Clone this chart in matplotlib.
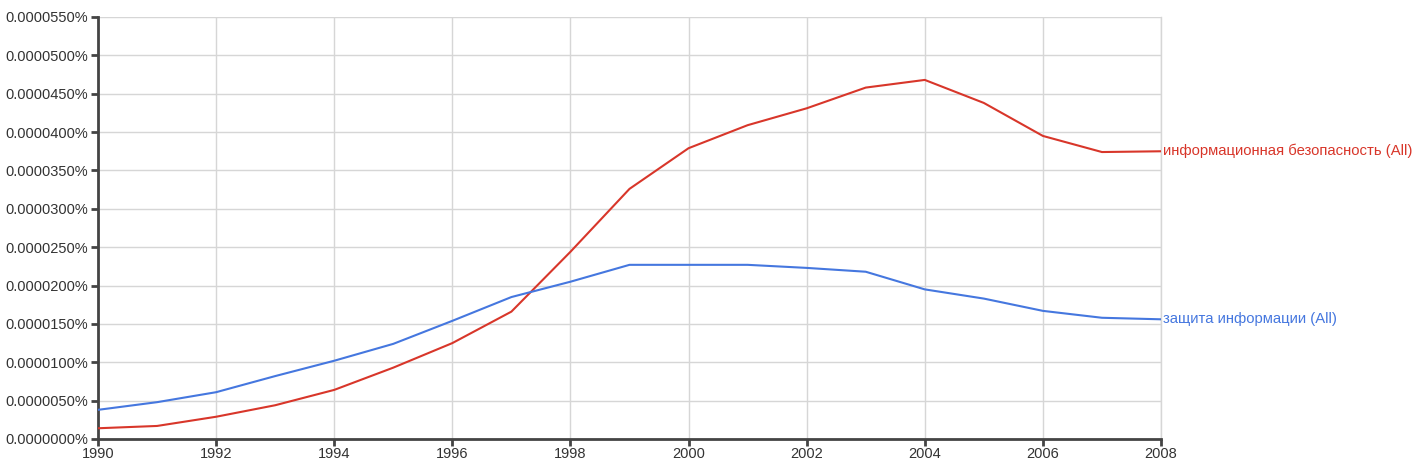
import matplotlib
matplotlib.use("Agg")
import matplotlib.pyplot as plt
from matplotlib.ticker import FuncFormatter, MultipleLocator

# dati (valori in percentuale)
anni = list(range(1990, 2009))
sicurezza = [0.0000014, 0.0000017, 0.0000029, 0.0000044, 0.0000064, 0.0000093,
             0.0000125, 0.0000166, 0.0000244, 0.0000326, 0.0000379, 0.0000409,
             0.0000431, 0.0000458, 0.0000468, 0.0000438, 0.0000395, 0.0000374,
             0.0000375]
protezione = [0.0000038, 0.0000048, 0.0000061, 0.0000082, 0.0000102, 0.0000124,
              0.0000154, 0.0000185, 0.0000205, 0.0000227, 0.0000227, 0.0000227,
              0.0000223, 0.0000218, 0.0000195, 0.0000183, 0.0000167, 0.0000158,
              0.0000156]
nomi = ["информационная безопасность (All)", "защита информации (All)"]
colori = ["#d8362a", "#4577df"]

plt.rcParams["font.family"] = ["Liberation Sans", "DejaVu Sans"]

fig = plt.figure(figsize=(14.19, 4.71), dpi=100)
ax = fig.add_axes([98 / 1419, 32 / 471, (1161 - 98) / 1419, (439 - 17) / 471])

for serie, nome, colore in zip([sicurezza, protezione], nomi, colori):
    ax.plot(anni, serie, color=colore, linewidth=1.5, zorder=3)
    # etichetta a destra, all'altezza dell'ultimo valore
    ax.annotate(nome, xy=(anni[-1], serie[-1]), xytext=(1.5, 0),
                textcoords="offset points", va="center", ha="left",
                color=colore, fontsize=10.7, annotation_clip=False)

ax.set_xlim(1990, 2008)
ax.set_ylim(0, 0.000055)
ax.xaxis.set_major_locator(MultipleLocator(2))
ax.yaxis.set_major_locator(MultipleLocator(0.000005))
ax.yaxis.set_major_formatter(FuncFormatter(lambda v, p: f"{v:.7f}%"))

ax.grid(True, color="#d6d6d6", linewidth=1)
ax.set_axisbelow(True)
ax.spines["top"].set_visible(False)
ax.spines["right"].set_color("#d6d6d6")
ax.spines["right"].set_linewidth(1)
for lato in ["left", "bottom"]:
    ax.spines[lato].set_color("#444444")
    ax.spines[lato].set_linewidth(2)
ax.tick_params(axis="both", direction="out", length=5, width=2, color="#444444",
               labelsize=10.5, labelcolor="#333333", pad=2)
ax.tick_params(axis="x", pad=1)

fig.savefig("out.png", dpi=100)
